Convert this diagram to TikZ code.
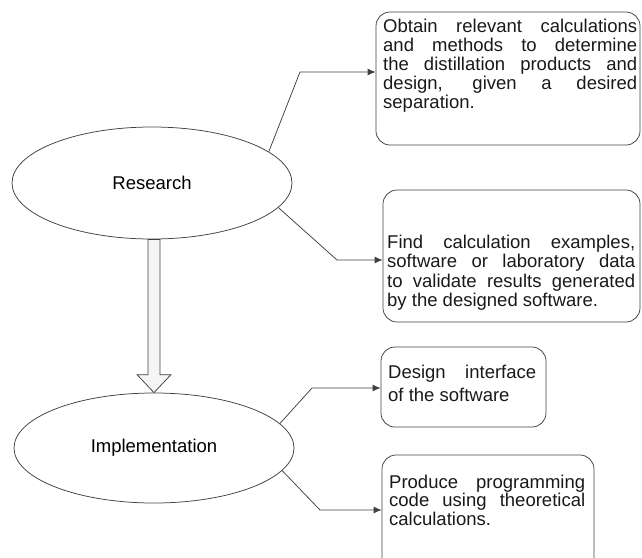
\documentclass[tikz,border=0pt]{standalone}
\usepackage{fontspec}
\setmainfont{Liberation Sans}
\usetikzlibrary{shapes.geometric,arrows.meta,calc}
\begin{document}
\begin{tikzpicture}[x=1pt,y=-1pt,
  ln/.style={draw=black!75,line width=0.75pt},
  oval/.style={ln,ellipse,inner sep=0pt,font=\fontsize{18.5}{20}\selectfont},
  rbox/.style={ln,rounded corners=14pt,inner sep=0pt},
  txt/.style={align=justify,inner sep=0pt,anchor=base west,text=black!90,
    execute at begin node={\hyphenpenalty=10000\tolerance=10000\hbadness=10000}},
  conn/.style={ln,-{Latex[length=8pt,width=7pt]}},
  hollow/.style={draw=black!75,line width=0.75pt,fill=gray!8}]
\useasboundingbox (0,0) rectangle (642,557);
\clip (0,0) rectangle (642,557);
% ellipses
\node[oval,minimum width=280pt,minimum height=112pt] (res) at (152,183) {Research};
\node[oval,minimum width=280pt,minimum height=110pt] (imp) at (154,448) {Implementation};
% boxes
\node[rbox,minimum width=264pt,minimum height=133pt] (box1) at (508,78.5) {};
\node[rbox,minimum width=257pt,minimum height=132pt] (box2) at (511.5,256) {};
\node[rbox,minimum width=165pt,minimum height=80pt] (box3) at (463.5,387) {};
\node[rbox,minimum width=212pt,minimum height=120pt] (box4) at (488,515) {};
% texts
\node[txt,text width=254pt,font=\fontsize{18.5}{19}\selectfont] (t1) at (383,32)
 {Obtain relevant calculations\linebreak and methods to determine\linebreak the distillation products and\linebreak design, given a desired\linebreak separation.};
\node[txt,text width=248pt,font=\fontsize{18.5}{19.5}\selectfont] (t2) at (387,248)
 {Find calculation examples,\linebreak software or laboratory data\linebreak to validate results generated\linebreak by the designed software.};
\node[txt,text width=148pt,font=\fontsize{18.5}{23}\selectfont] (t3) at (388,378)
 {Design interface\linebreak of the software};
\node[txt,text width=196pt,font=\fontsize{18.5}{18.5}\selectfont] (t4) at (389,488)
 {Produce programming\linebreak code using theoretical\linebreak calculations.};
% connectors
\coordinate (e1) at (300,72);
\draw[conn] (res.15) -- (e1) -- (e1 -| box1.west);
\coordinate (e2) at (337,260);
\draw[conn] (res.-11) -- (e2) -- (e2 -| box2.west);
\coordinate (e3) at (312,388);
\draw[conn] (imp.11) -- (e3) -- (e3 -| box3.west);
\coordinate (e4) at (320,510);
\draw[conn] (imp.-10) -- (e4) -- (e4 -| box4.west);
% hollow block arrow
\coordinate (as) at (res.south);
\coordinate (ae) at (imp.north);
\draw[hollow] ($(ae |- as)+(-6,0)$) -- ($(ae)+(-6,-18)$) -- ($(ae)+(-17,-18)$) -- (ae)
  -- ($(ae)+(17,-18)$) -- ($(ae)+(6,-18)$) -- ($(ae |- as)+(6,0)$) -- cycle;
\end{tikzpicture}
\end{document}
